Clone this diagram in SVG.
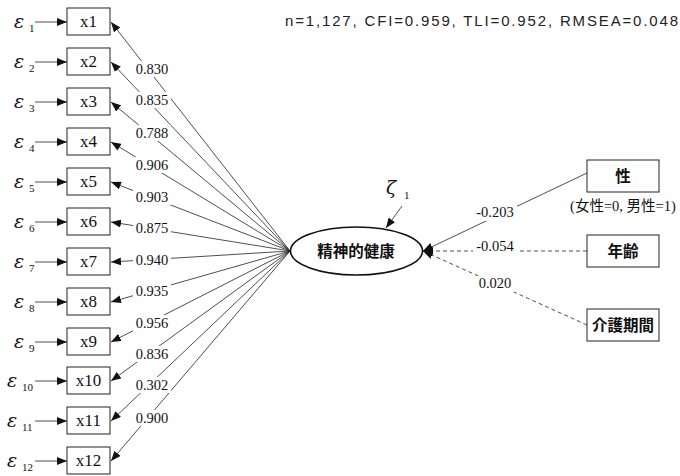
<svg xmlns="http://www.w3.org/2000/svg" width="680" height="476" viewBox="0 0 680 476">
<defs>
<marker id="ah" markerWidth="10" markerHeight="8" refX="10" refY="4" orient="auto" markerUnits="userSpaceOnUse">
<path d="M0,0 L10,4 L0,8 Z" fill="#111"/>
</marker>
</defs>
<style>
.box{fill:#fff;stroke:#222;stroke-width:1}
.ln{stroke:#222;stroke-width:0.8;fill:none}
.dash{stroke:#222;stroke-width:0.8;fill:none;stroke-dasharray:4 3}
.xl{font-family:"Liberation Serif",serif;font-size:17px;fill:#111;text-anchor:middle}
.eps{font-family:"DejaVu Serif","Liberation Serif",serif;font-size:19px;font-style:italic;fill:#111}
.sub{font-family:"Liberation Serif",serif;font-size:11px;fill:#111}
.lab{font-family:"Liberation Serif",serif;font-size:14.5px;fill:#111;text-anchor:middle}
.bg{fill:#fff}
.jp{font-family:"Noto Sans CJK JP",sans-serif;font-size:15.5px;font-weight:bold;fill:#111;text-anchor:middle}
.jps{font-family:"Liberation Serif","Noto Sans CJK JP",serif;font-size:14.5px;fill:#111;text-anchor:middle}
</style>
<rect width="680" height="476" fill="#fff"/>
<text x="285" y="26" font-family="Liberation Sans,sans-serif" font-size="15" fill="#222" textLength="393" lengthAdjust="spacing">n=1,127,  CFI=0.959,  TLI=0.952,  RMSEA=0.048</text>
<g id="connectors">
<line class="ln" x1="290" y1="251" x2="111" y2="22" marker-end="url(#ah)"/>
<line class="ln" x1="290" y1="251" x2="111" y2="62" marker-end="url(#ah)"/>
<line class="ln" x1="290" y1="251" x2="111" y2="102" marker-end="url(#ah)"/>
<line class="ln" x1="290" y1="251" x2="111" y2="142" marker-end="url(#ah)"/>
<line class="ln" x1="290" y1="251" x2="111" y2="182" marker-end="url(#ah)"/>
<line class="ln" x1="290" y1="251" x2="111" y2="222" marker-end="url(#ah)"/>
<line class="ln" x1="290" y1="251" x2="111" y2="262" marker-end="url(#ah)"/>
<line class="ln" x1="290" y1="251" x2="111" y2="302" marker-end="url(#ah)"/>
<line class="ln" x1="290" y1="251" x2="111" y2="342" marker-end="url(#ah)"/>
<line class="ln" x1="290" y1="251" x2="111" y2="381" marker-end="url(#ah)"/>
<line class="ln" x1="290" y1="251" x2="111" y2="421" marker-end="url(#ah)"/>
<line class="ln" x1="290" y1="251" x2="111" y2="461" marker-end="url(#ah)"/>
<line class="ln" x1="35" y1="22" x2="67" y2="22" marker-end="url(#ah)"/>
<line class="ln" x1="35" y1="62" x2="67" y2="62" marker-end="url(#ah)"/>
<line class="ln" x1="35" y1="102" x2="67" y2="102" marker-end="url(#ah)"/>
<line class="ln" x1="35" y1="142" x2="67" y2="142" marker-end="url(#ah)"/>
<line class="ln" x1="35" y1="182" x2="67" y2="182" marker-end="url(#ah)"/>
<line class="ln" x1="35" y1="222" x2="67" y2="222" marker-end="url(#ah)"/>
<line class="ln" x1="35" y1="262" x2="67" y2="262" marker-end="url(#ah)"/>
<line class="ln" x1="35" y1="302" x2="67" y2="302" marker-end="url(#ah)"/>
<line class="ln" x1="35" y1="342" x2="67" y2="342" marker-end="url(#ah)"/>
<line class="ln" x1="35" y1="381" x2="67" y2="381" marker-end="url(#ah)"/>
<line class="ln" x1="35" y1="421" x2="67" y2="421" marker-end="url(#ah)"/>
<line class="ln" x1="35" y1="461" x2="67" y2="461" marker-end="url(#ah)"/>
<line class="ln" x1="587" y1="173" x2="423" y2="251" marker-end="url(#ah)"/>
<line class="dash" x1="587" y1="251" x2="423" y2="251" marker-end="url(#ah)"/>
<line class="dash" x1="587" y1="325" x2="423" y2="251" marker-end="url(#ah)"/>
<line class="ln" x1="402" y1="206" x2="386" y2="228" marker-end="url(#ah)"/>
<g>
<rect class="bg" x="133" y="61" width="38" height="16"/><text class="lab" x="152" y="74">0.830</text>
<rect class="bg" x="133" y="92" width="38" height="16"/><text class="lab" x="152" y="105">0.835</text>
<rect class="bg" x="133" y="125" width="38" height="16"/><text class="lab" x="152" y="138">0.788</text>
<rect class="bg" x="133" y="157" width="38" height="16"/><text class="lab" x="152" y="170">0.906</text>
<rect class="bg" x="133" y="189" width="38" height="16"/><text class="lab" x="152" y="202">0.903</text>
<rect class="bg" x="133" y="220" width="38" height="16"/><text class="lab" x="152" y="233">0.875</text>
<rect class="bg" x="133" y="252" width="38" height="16"/><text class="lab" x="152" y="265">0.940</text>
<rect class="bg" x="133" y="283" width="38" height="16"/><text class="lab" x="152" y="296">0.935</text>
<rect class="bg" x="133" y="315" width="38" height="16"/><text class="lab" x="152" y="328">0.956</text>
<rect class="bg" x="133" y="346" width="38" height="16"/><text class="lab" x="152" y="359">0.836</text>
<rect class="bg" x="133" y="377" width="38" height="16"/><text class="lab" x="152" y="390">0.302</text>
<rect class="bg" x="133" y="410" width="38" height="16"/><text class="lab" x="152" y="423">0.900</text>
<rect class="bg" x="473" y="205" width="44" height="16"/><text class="lab" x="495" y="217">-0.203</text>
<rect class="bg" x="473" y="239" width="44" height="16"/><text class="lab" x="495" y="251">-0.054</text>
<rect class="bg" x="476" y="276" width="38" height="16"/><text class="lab" x="495" y="288">0.020</text>
</g>
</g>
<g id="x1"><rect class="box" x="67" y="8" width="43" height="27"/><text class="xl" x="88.5" y="27">x1</text><text class="eps" x="14" y="28">ε</text><text class="sub" x="29" y="32">1</text></g>
<g id="x2"><rect class="box" x="67" y="48" width="43" height="27"/><text class="xl" x="88.5" y="67">x2</text><text class="eps" x="14" y="68">ε</text><text class="sub" x="29" y="72">2</text></g>
<g id="x3"><rect class="box" x="67" y="88" width="43" height="27"/><text class="xl" x="88.5" y="107">x3</text><text class="eps" x="14" y="108">ε</text><text class="sub" x="29" y="112">3</text></g>
<g id="x4"><rect class="box" x="67" y="128" width="43" height="27"/><text class="xl" x="88.5" y="147">x4</text><text class="eps" x="14" y="148">ε</text><text class="sub" x="29" y="152">4</text></g>
<g id="x5"><rect class="box" x="67" y="168" width="43" height="27"/><text class="xl" x="88.5" y="187">x5</text><text class="eps" x="14" y="188">ε</text><text class="sub" x="29" y="192">5</text></g>
<g id="x6"><rect class="box" x="67" y="208" width="43" height="27"/><text class="xl" x="88.5" y="227">x6</text><text class="eps" x="14" y="228">ε</text><text class="sub" x="29" y="232">6</text></g>
<g id="x7"><rect class="box" x="67" y="248" width="43" height="27"/><text class="xl" x="88.5" y="267">x7</text><text class="eps" x="14" y="268">ε</text><text class="sub" x="29" y="272">7</text></g>
<g id="x8"><rect class="box" x="67" y="288" width="43" height="27"/><text class="xl" x="88.5" y="307">x8</text><text class="eps" x="14" y="308">ε</text><text class="sub" x="29" y="312">8</text></g>
<g id="x9"><rect class="box" x="67" y="328" width="43" height="27"/><text class="xl" x="88.5" y="347">x9</text><text class="eps" x="14" y="348">ε</text><text class="sub" x="29" y="352">9</text></g>
<g id="x10"><rect class="box" x="67" y="367" width="43" height="27"/><text class="xl" x="88.5" y="386">x10</text><text class="eps" x="7" y="387">ε</text><text class="sub" x="22" y="391">10</text></g>
<g id="x11"><rect class="box" x="67" y="407" width="43" height="27"/><text class="xl" x="88.5" y="426">x11</text><text class="eps" x="7" y="427">ε</text><text class="sub" x="22" y="431">11</text></g>
<g id="x12"><rect class="box" x="67" y="447" width="43" height="27"/><text class="xl" x="88.5" y="466">x12</text><text class="eps" x="7" y="467">ε</text><text class="sub" x="22" y="471">12</text></g>
<g id="mental"><ellipse cx="356.5" cy="251" rx="66" ry="24" fill="#fff" stroke="#111" stroke-width="1.6"/><text class="jp" x="356" y="257">精神的健康</text><text x="386" y="194" font-family="DejaVu Serif,serif" font-size="19" font-style="italic" fill="#111">ζ</text><text class="sub" x="404" y="199">1</text></g>
<g id="sex"><rect class="box" x="587" y="160" width="72" height="32"/><text class="jp" x="623" y="182">性</text><text class="jps" x="623" y="211">(女性=0, 男性=1)</text></g>
<g id="age"><rect class="box" x="587" y="235" width="72" height="32"/><text class="jp" x="623" y="257">年齢</text></g>
<g id="care"><rect class="box" x="587" y="309" width="72" height="32"/><text class="jp" x="623" y="331">介護期間</text></g>
</svg>
